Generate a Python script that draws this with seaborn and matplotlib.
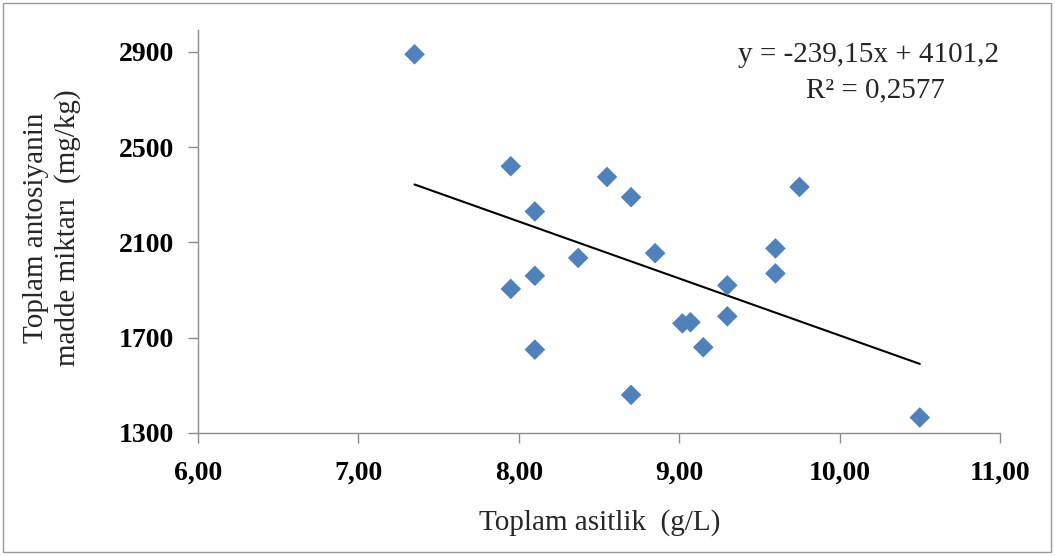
import numpy as np
import pandas as pd
import matplotlib
matplotlib.use("Agg")
import matplotlib.pyplot as plt
import seaborn as sns
from matplotlib.patches import Rectangle

# Data
asitlik = [7.35, 7.95, 8.55, 8.70, 8.10, 8.85, 8.37, 9.60, 9.60, 8.10,
           7.95, 9.75, 9.30, 9.30, 9.02, 9.07, 9.15, 8.10, 8.70, 10.50]
antosiyanin = [2890, 2420, 2375, 2290, 2230, 2055, 2035, 2075, 1970, 1960,
               1905, 2333, 1920, 1790, 1760, 1765, 1660, 1650, 1460, 1365]
trend_slope = [-239.15]
trend_intercept = [4101.2]
x_ticks = [6, 7, 8, 9, 10, 11]
x_tick_labels = ["6,00", "7,00", "8,00", "9,00", "10,00", "11,00"]
y_ticks = [1300, 1700, 2100, 2500, 2900]
y_tick_labels = ["1300", "1700", "2100", "2500", "2900"]
equation_text = "y = -239,15x + 4101,2"
r2_text = "R² = 0,2577"
x_label = "Toplam asitlik  (g/L)"
y_label = "Toplam antosiyanin\nmadde miktarı  (mg/kg)"

df = pd.DataFrame({"x": asitlik, "y": antosiyanin})
xs = np.array([min(asitlik), max(asitlik)])
trend = pd.DataFrame({"x": xs, "y": trend_slope[0] * xs + trend_intercept[0]})

sns.set_theme(style="white")
plt.rcParams["font.family"] = ["Liberation Serif", "DejaVu Serif"]

fig = plt.figure(figsize=(10.55, 5.56), dpi=100)
ax = fig.add_axes([198 / 1055, 1 - 433 / 556, (1000 - 198) / 1055, (433 - 30) / 556])

sns.lineplot(data=trend, x="x", y="y", ax=ax, color="black", linewidth=1.5, zorder=2)
sns.scatterplot(data=df, x="x", y="y", ax=ax, marker="D", s=110, color="#4F81BD",
                edgecolor="none", linewidth=0, zorder=3)

ax.set_xlim(6, 11)
ax.set_ylim(1300, 2992)
ax.set_xticks(x_ticks)
ax.set_xticklabels(x_tick_labels, fontsize=20, fontweight="bold")
ax.set_yticks(y_ticks)
ax.set_yticklabels(y_tick_labels, fontsize=20, fontweight="bold")
ax.tick_params(axis="both", direction="out", length=7, width=1, color="#8c8c8c",
               labelcolor="black", left=True, bottom=True)
ax.tick_params(axis="y", pad=10)
ax.tick_params(axis="x", pad=13)

for side in ["top", "right"]:
    ax.spines[side].set_visible(False)
for side in ["left", "bottom"]:
    ax.spines[side].set_color("#8c8c8c")
    ax.spines[side].set_linewidth(1)

ax.set_xlabel("")
ax.set_ylabel("")
fig.text(600 / 1055, 1 - 523 / 556, x_label, ha="center", va="center", fontsize=21)
fig.text(52 / 1055, 1 - 228 / 556, y_label, ha="center", va="center", fontsize=21,
         rotation=90, linespacing=1.2)

fig.text(869 / 1055, 1 - 55 / 556, equation_text, ha="center", va="center", fontsize=21)
fig.text(875 / 1055, 1 - 90 / 556, r2_text, ha="center", va="center", fontsize=21)

fig.patches.append(Rectangle((3 / 1055, 4 / 556), 1048 / 1055, 549 / 556,
                             transform=fig.transFigure, fill=False,
                             edgecolor="#999999", linewidth=1))

fig.savefig("out.png", dpi=100)
